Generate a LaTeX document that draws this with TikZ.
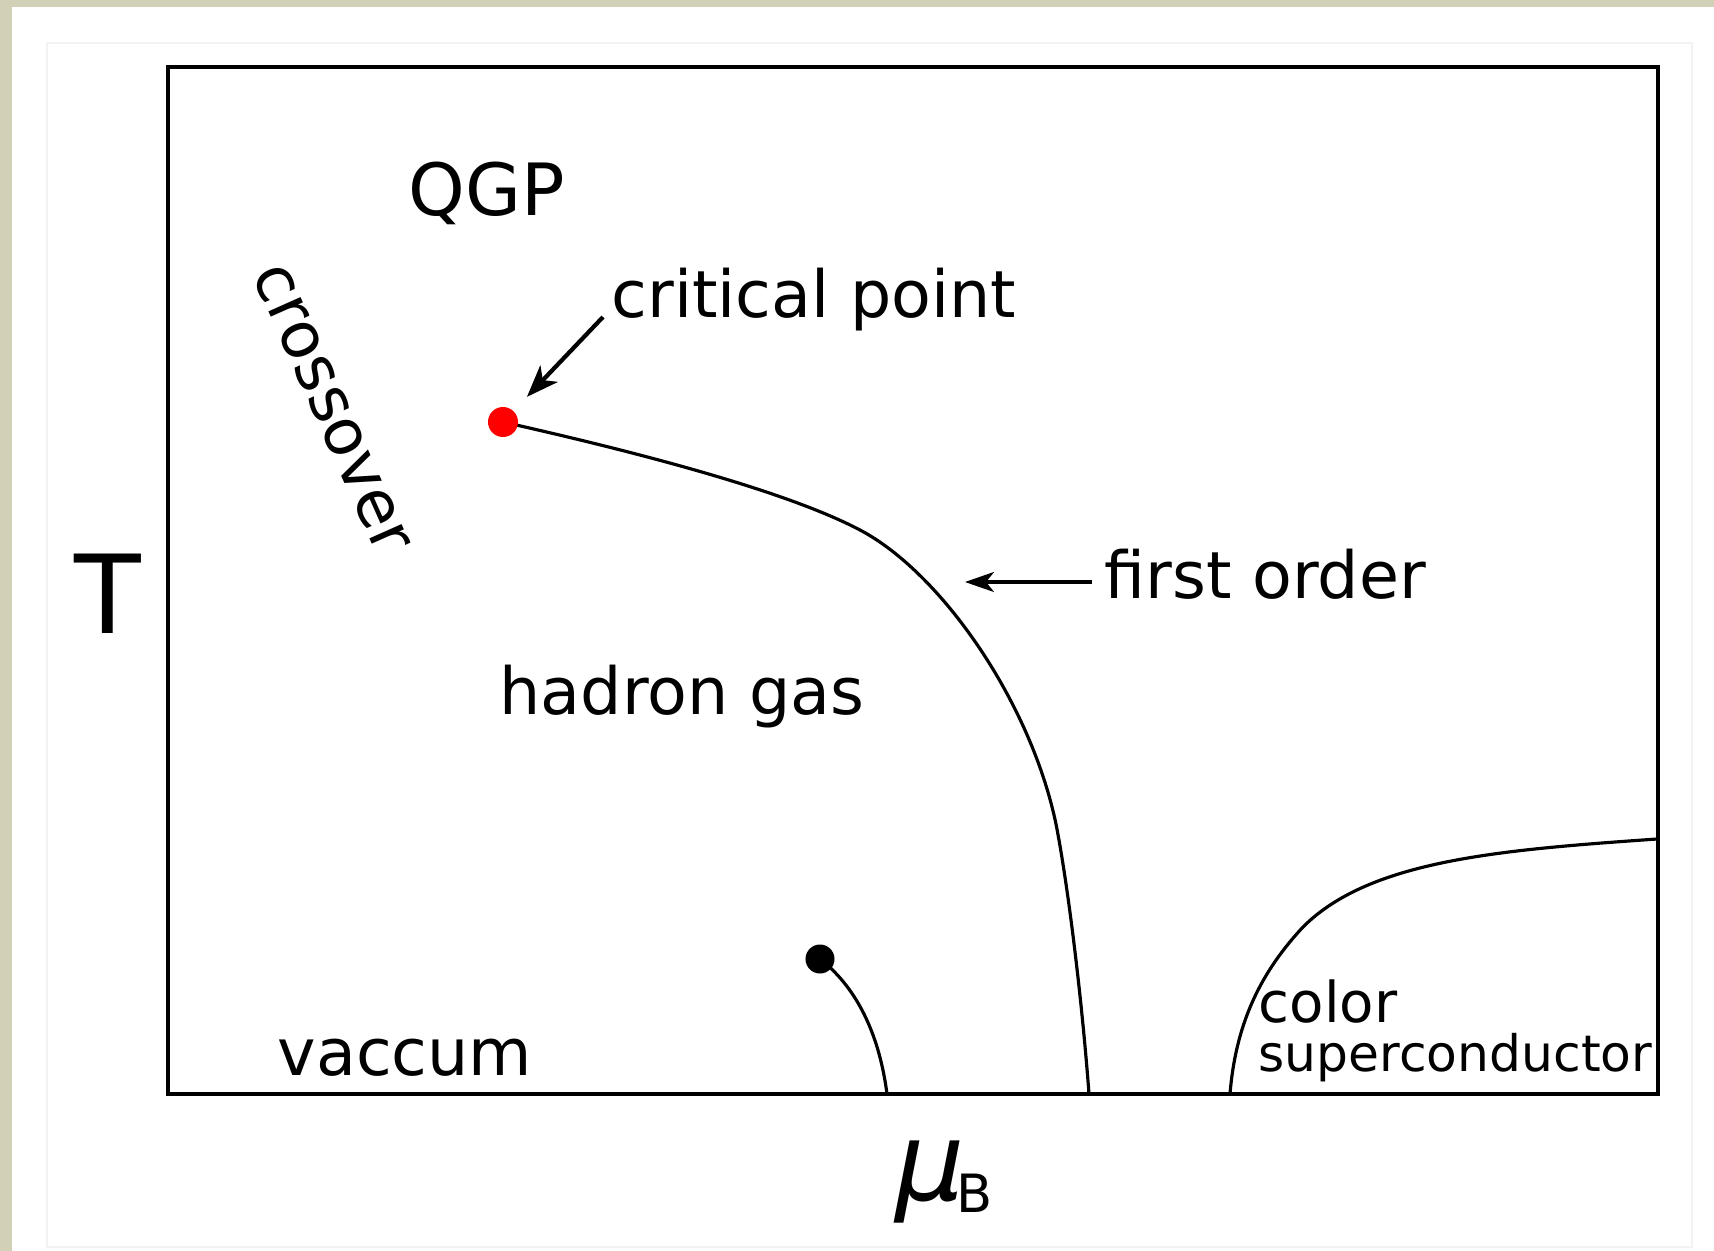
\documentclass[tikz,border=0pt]{standalone}
\usepackage{fontspec}
\setmainfont{DejaVu Sans}
\usetikzlibrary{arrows.meta}
\definecolor{khaki}{RGB}{210,208,182}

\begin{document}
\begin{tikzpicture}[>={Stealth[length=0.32cm, width=0.24cm, inset=0.09cm]}, x=0.01cm, y=-0.01cm,
  font=\fontsize{18.5}{22}\selectfont,
  lab/.style={anchor=base west, inner sep=0},
  dot/.style={circle, inner sep=0, minimum size=0.3cm},
  line/.style={line width=0.9pt}]
% fond
\fill[khaki] (0,0) rectangle (1714,1251);
\fill[white] (12,7) rectangle (1714,1251);
\draw[gray!10, line width=0.6pt] (47,43) rectangle (1692,1247);
\useasboundingbox (0,0) rectangle (1714,1251);
% cadre
\draw[line width=1.3pt] (168,67) rectangle (1658,1094);
% lignes de transition
\draw[line] (503,422) .. controls (650,455) and (790,493) .. (860,530)
  .. controls (940,572) and (1030,700) .. (1056,824)
  .. controls (1068,885) and (1082,1000) .. (1089,1094);
\draw[line] (820,959) .. controls (860,990) and (880,1040) .. (887,1094);
\draw[line] (1230,1094) .. controls (1236,1020) and (1263,970) .. (1303,927)
  .. controls (1370,860) and (1500,850) .. (1657,839);
% points
\node[dot, fill=red] (crit) at (503,422) {};
\node[dot, fill=black, minimum size=0.29cm] (end) at (820,959) {};
% axes
\node[font=\fontsize{31}{31}\selectfont] (tlab) at (108,594) {T};
\node[lab] (mub) at (895,1200) {\fontsize{31}{31}\selectfont\itshape μ\kern-0.09cm\fontsize{15}{15}\selectfont\upshape\raisebox{-0.12cm}{B}};
% phases
\node[anchor=base, font=\fontsize{20.5}{24}\selectfont] (qgp) at (487,215) {QGP};
\node[rotate=-66, font=\fontsize{18.3}{20}\selectfont] (cross) at (331,409) {crossover};
\node[lab] (hadron) at (499,714) {hadron gas};
\node[lab] (vac) at (277,1075) {vaccum};
\node[lab, font=\fontsize{16}{18}\selectfont] (color) at (1258,1022) {color};
\node[lab, font=\fontsize{14.3}{16}\selectfont] (super) at (1258,1071) {superconductor};
% fleches
\node[lab] (critlabel) at (611,317) {critical point};
\draw[->, line width=1.2pt, shorten >=0.19cm] ([xshift=-0.08cm]critlabel.base west) -- (crit);
\node[lab] (first) at (1104,598) {first order};
\coordinate (fo) at (965,582);
\draw[<-, >={Stealth[length=0.29cm, width=0.2cm, inset=0.08cm]}, line width=0.95pt, shorten >=0.12cm] (fo) -- (fo -| first.west);
\end{tikzpicture}
\end{document}
